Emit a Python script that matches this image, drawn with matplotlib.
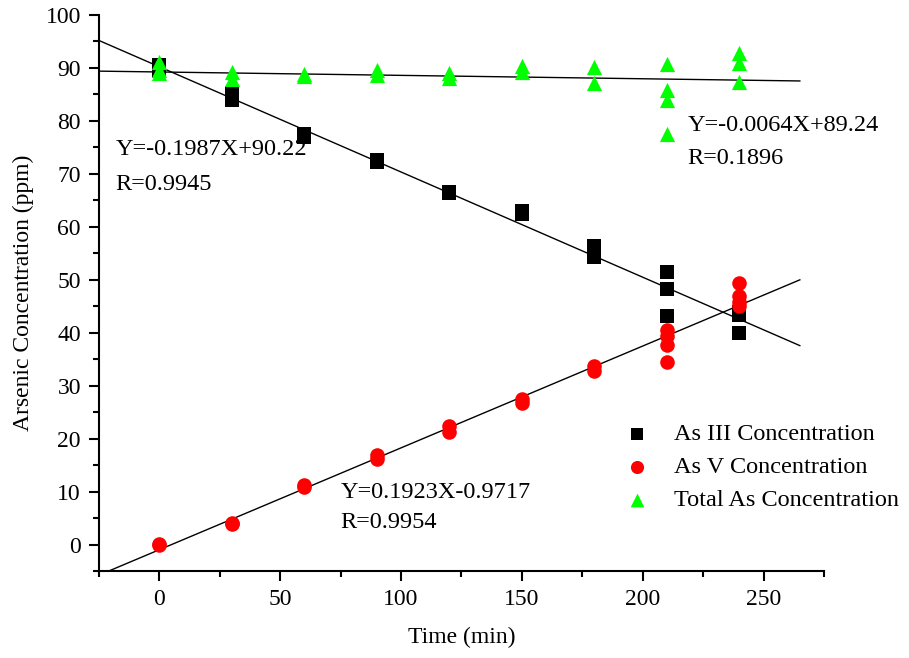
import matplotlib
matplotlib.use("Agg")
import matplotlib.pyplot as plt
from matplotlib.ticker import MultipleLocator
import numpy as np

plt.rcParams['font.family'] = ['Liberation Serif', 'DejaVu Serif']

# --- data ---
as3_t = [0, 0, 30, 30, 60, 60, 90, 90, 120, 120, 150, 150, 180, 180,
         210, 210, 210, 240, 240, 240]
as3_c = [90.5, 89.5, 85.2, 84.0, 77.6, 77.0, 72.7, 72.2, 66.6, 66.3, 63.0, 62.4, 56.3, 54.3,
         51.4, 48.2, 43.2, 44.0, 43.4, 40.0]

as5_t = [0, 0, 30, 30, 60, 60, 90, 90, 120, 120, 150, 150, 180, 180,
         210, 210, 210, 210, 240, 240, 240, 240]
as5_c = [0.0, 0.1, 4.0, 3.8, 11.2, 10.8, 17.0, 16.1, 22.4, 21.3, 27.4, 26.8, 33.7, 32.8,
         40.6, 39.3, 37.6, 34.5, 49.3, 47.0, 45.8, 45.0]

tot_t = [0, 0, 0, 30, 30, 60, 60, 90, 90, 120, 120, 150, 150, 180, 180,
         210, 210, 210, 210, 240, 240, 240]
tot_c = [91.2, 89.6, 89.0, 89.3, 88.0, 88.9, 88.5, 89.6, 88.7, 89.1, 88.1, 90.3, 89.3, 90.2, 87.2,
         90.8, 85.8, 84.0, 77.6, 92.8, 90.9, 87.4]

fit_x = [-25, 265]
fit3 = (-0.1987, 90.22)
fit5 = (0.1923, -0.9717)
fitT = (-0.0064, 89.24)

labels = ['As III Concentration', 'As V Concentration', 'Total As Concentration']
eq3 = ['Y=-0.1987X+90.22', 'R=0.9945']
eq5 = ['Y=0.1923X-0.9717', 'R=0.9954']
eqT = ['Y=-0.0064X+89.24', 'R=0.1896']

fig = plt.figure(figsize=(9.09, 6.58), dpi=100)
ax = fig.add_axes([0.1089, 0.1322, 0.7976, 0.845])

fx = np.array(fit_x, dtype=float)
for m, b in (fit3, fit5, fitT):
    ax.plot(fx, m * fx + b, color='black', lw=1.0, zorder=2)

h1 = ax.scatter(as3_t, as3_c, marker='s', s=95, color='black', lw=0, zorder=3, label=labels[0])
h2 = ax.scatter(as5_t, as5_c, marker='o', s=110, color='#FF0000', lw=0, zorder=4, label=labels[1])
h3 = ax.scatter(tot_t, tot_c, marker='^', s=120, color='#00FF00', lw=0, zorder=5, label=labels[2])

fs = 17.5
ax.text(-18.2, 74.6, eq3[0], fontsize=fs, va='center', ha='left')
ax.text(-18.2, 68.0, eq3[1], fontsize=fs, va='center', ha='left')
ax.text(218.5, 79.2, eqT[0], fontsize=fs, va='center', ha='left')
ax.text(218.5, 72.9, eqT[1], fontsize=fs, va='center', ha='left')
ax.text(75, 9.9, eq5[0], fontsize=fs, va='center', ha='left')
ax.text(75, 4.2, eq5[1], fontsize=fs, va='center', ha='left')

ax.set_xlim(-25, 275)
ax.set_ylim(-5, 100)
ax.xaxis.set_major_locator(MultipleLocator(50))
ax.xaxis.set_minor_locator(MultipleLocator(25))
ax.yaxis.set_major_locator(MultipleLocator(10))
ax.yaxis.set_minor_locator(MultipleLocator(5))

ax.spines['top'].set_visible(False)
ax.spines['right'].set_visible(False)
for s in ('left', 'bottom'):
    ax.spines[s].set_linewidth(1.5)
ax.tick_params(which='major', direction='out', length=7, width=1.5, labelsize=17, pad=6)
ax.tick_params(which='minor', direction='out', length=4, width=1.5)

ax.set_xlabel('Time (min)', fontsize=17, labelpad=12)
ax.set_ylabel('Arsenic Concentration (ppm)', fontsize=17, labelpad=8)

leg = ax.legend(handles=[h1, h2, h3], loc='upper left', bbox_to_anchor=(0.6945, 0.283),
                frameon=False, fontsize=fs, handletextpad=0.55, labelspacing=0.45,
                markerscale=0.9, borderaxespad=0)

fig.savefig('out.png', dpi=100)
